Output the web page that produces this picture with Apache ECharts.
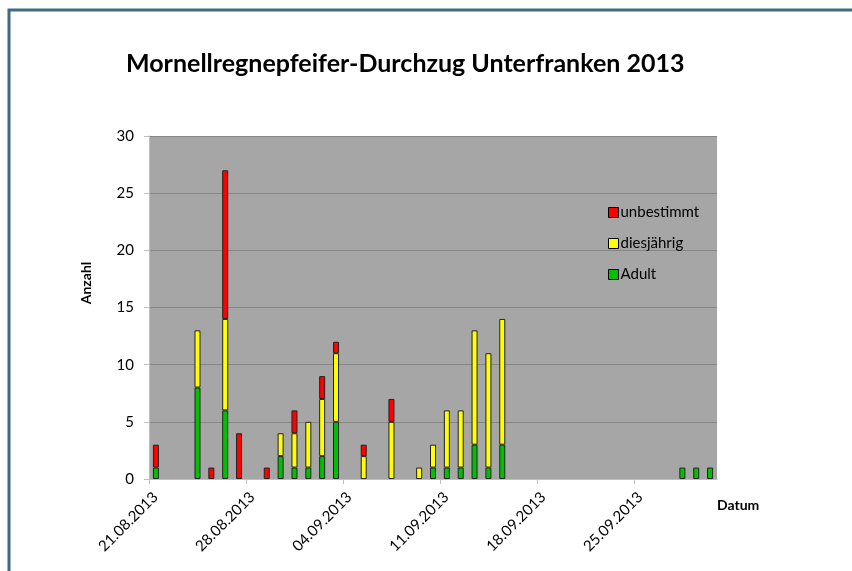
<!DOCTYPE html>
<html>
<head>
<meta charset="utf-8">
<script src="https://cdn.jsdelivr.net/npm/echarts@6/dist/echarts.min.js"></script>
<style>
  html, body { margin: 0; padding: 0; background: #fff; }
  #chart { width: 852px; height: 571px; }
</style>
</head>
<body>
<div id="chart"></div>
<script>
// Beobachtungstage und Anzahl je Kategorie
const startDate = '21.08.2013'
const dayCount = 41
const obsDates = ['21.08.2013', '24.08.2013', '25.08.2013', '26.08.2013', '27.08.2013', '29.08.2013',
  '30.08.2013', '31.08.2013', '01.09.2013', '02.09.2013', '03.09.2013', '05.09.2013', '07.09.2013',
  '09.09.2013', '10.09.2013', '11.09.2013', '12.09.2013', '13.09.2013', '14.09.2013', '15.09.2013',
  '28.09.2013', '29.09.2013', '30.09.2013']
const adult = [1, 8, 0, 6, 0, 0, 2, 1, 1, 2, 5, 0, 0, 0, 1, 1, 1, 3, 1, 3, 1, 1, 1]
const diesjaehrig = [0, 5, 0, 8, 0, 0, 2, 3, 4, 5, 6, 2, 5, 1, 2, 5, 5, 10, 10, 11, 0, 0, 0]
const unbestimmt = [2, 0, 1, 13, 4, 1, 0, 2, 0, 2, 1, 1, 2, 0, 0, 0, 0, 0, 0, 0, 0, 0, 0]
const yTicks = [0, 5, 10, 15, 20, 25, 30]

const font = 'Lato, "Open Sans", sans-serif'

function parseDate(s) {
  const p = s.split('.')
  return Date.UTC(+p[2], +p[1] - 1, +p[0])
}
const DAY = 86400000
const t0 = parseDate(startDate)
function fmt(idx) {
  const d = new Date(t0 + idx * DAY)
  const dd = String(d.getUTCDate()).padStart(2, '0')
  const mm = String(d.getUTCMonth() + 1).padStart(2, '0')
  return dd + '.' + mm + '.' + d.getUTCFullYear()
}
// alle Tage als Kategorien, Werte auf die Tage verteilen
const allDays = []
for (let i = 0; i < dayCount; i++) allDays.push(fmt(i))
function toData(arr) {
  const out = allDays.map(() => null)
  arr.forEach((v, i) => {
    const idx = allDays.indexOf(obsDates[i])
    if (v !== 0) out[idx] = v
  })
  return out
}

const chart = echarts.init(document.getElementById('chart'))

const border = { borderColor: '#222', borderWidth: 1 }

chart.setOption({
  animation: false,
  textStyle: { fontFamily: font },
  title: {
    text: 'Mornellregnepfeifer-Durchzug Unterfranken 2013',
    left: 121,
    top: 46,
    textStyle: { fontSize: 25, fontWeight: 'bold', color: '#000', fontFamily: font }
  },
  graphic: [
    { type: 'rect', shape: { x: 9, y: 10, width: 900, height: 700 },
      style: { fill: 'none', stroke: '#3f6b7f', lineWidth: 3 }, silent: true },
    { type: 'text', x: 86, y: 283, rotation: Math.PI / 2, silent: true,
      style: { text: 'Anzahl', font: 'bold 14px ' + font, fill: '#000', align: 'center', verticalAlign: 'middle' } }
  ],
  legend: {
    orient: 'vertical',
    left: 603,
    top: 200,
    itemWidth: 10,
    itemHeight: 10,
    itemGap: 16,
    icon: 'rect',
    data: ['unbestimmt', 'diesjährig', 'Adult'],
    textStyle: { fontSize: 15, color: '#000', fontFamily: font, padding: [0, 0, 0, -3] },
    itemStyle: { borderColor: '#000', borderWidth: 1 }
  },
  grid: { left: 149, right: 135, top: 136, bottom: 92, show: true, backgroundColor: '#a6a6a6', borderWidth: 0 },
  xAxis: [{
    type: 'category',
    data: allDays,
    boundaryGap: true,
    axisLine: { show: true, lineStyle: { color: '#bfbfbf', width: 1 } },
    axisTick: { show: false },
    axisLabel: { show: false },
    splitLine: { show: false }
  }, {
    type: 'value',
    position: 'bottom',
    min: 0,
    max: dayCount,
    interval: 7,
    name: 'Datum',
    nameLocation: 'end',
    nameGap: 0,
    nameTextStyle: { fontSize: 14, fontWeight: 'bold', color: '#000', padding: [19, 0, 0, 0], verticalAlign: 'top', align: 'left' },
    axisLine: { show: false },
    axisTick: { show: true, length: 5, lineStyle: { color: '#bfbfbf' } },
    splitLine: { show: false },
    axisLabel: {
      rotate: 45,
      margin: 22,
      fontSize: 15,
      color: '#000',
      padding: [0, -9, 0, 0],
      showMaxLabel: false,
      formatter: v => fmt(v)
    }
  }],
  yAxis: {
    type: 'value',
    min: yTicks[0],
    max: yTicks[yTicks.length - 1],
    interval: 5,
    axisLine: { show: true, lineStyle: { color: '#bfbfbf', width: 1 } },
    axisTick: { show: true, length: 5, lineStyle: { color: '#bfbfbf' } },
    splitLine: { show: true, lineStyle: { color: '#868686', width: 1 } },
    axisLabel: { fontSize: 15, color: '#000', margin: 15 }
  },
  series: [
    { name: 'Adult', type: 'bar', stack: 'total', barWidth: 6, data: toData(adult),
      itemStyle: Object.assign({ color: '#00c000' }, border) },
    { name: 'diesjährig', type: 'bar', stack: 'total', barWidth: 6, data: toData(diesjaehrig),
      itemStyle: Object.assign({ color: '#ffff00' }, border) },
    { name: 'unbestimmt', type: 'bar', stack: 'total', barWidth: 6, data: toData(unbestimmt),
      itemStyle: Object.assign({ color: '#ff0000' }, border) }
  ]
})
</script>
</body>
</html>
